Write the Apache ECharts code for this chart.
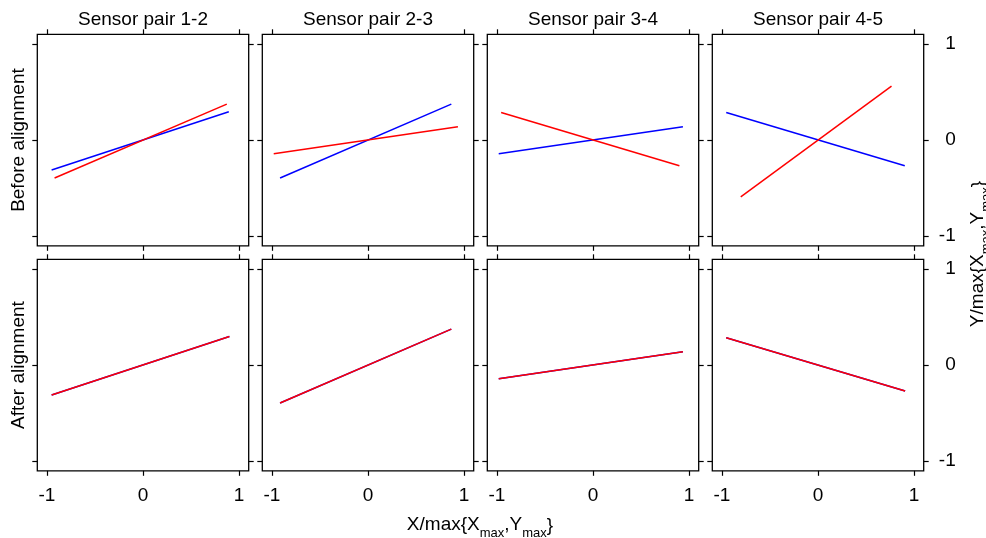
<!DOCTYPE html>
<html>
<head>
<meta charset="utf-8">
<script src="https://cdn.jsdelivr.net/npm/echarts@6/dist/echarts.min.js"></script>
<style>html,body{margin:0;padding:0;background:#fff}#c{width:986px;height:538px}</style>
</head>
<body>
<div id="c"></div>
<script>
// ---- tick labels / categories ----
const xTicks = [-1, 0, 1];
const yTicks = [-1, 0, 1];
const panelTitles = ['Sensor pair 1-2', 'Sensor pair 2-3', 'Sensor pair 3-4', 'Sensor pair 4-5'];
const rowTitles = ['Before alignment', 'After alignment'];

// ---- data: [x, y] end points of each fitted line ----
const beforeBlue12 = [[-0.951, -0.311], [0.893, 0.294]];
const beforeRed12  = [[-0.920, -0.395], [0.872, 0.374]];
const beforeBlue23 = [[-0.915, -0.395], [0.867, 0.374]];
const beforeRed23  = [[-0.981, -0.142], [0.936, 0.138]];
const beforeBlue34 = [[-0.981, -0.142], [0.936, 0.138]];
const beforeRed34  = [[-0.956, 0.287], [0.899, -0.267]];
const beforeBlue45 = [[-0.955, 0.287], [0.903, -0.267]];
const beforeRed45  = [[-0.804, -0.592], [0.765, 0.561]];

const afterBlue12 = [[-0.951, -0.311], [0.899, 0.297]];
const afterRed12  = [[-0.951, -0.311], [0.899, 0.297]];
const afterBlue23 = [[-0.915, -0.395], [0.867, 0.374]];
const afterRed23  = [[-0.915, -0.395], [0.867, 0.374]];
const afterBlue34 = [[-0.981, -0.142], [0.936, 0.138]];
const afterRed34  = [[-0.981, -0.142], [0.936, 0.138]];
const afterBlue45 = [[-0.955, 0.283], [0.907, -0.270]];
const afterRed45  = [[-0.955, 0.283], [0.907, -0.270]];

const blueRows = [[beforeBlue12, beforeBlue23, beforeBlue34, beforeBlue45],
                  [afterBlue12, afterBlue23, afterBlue34, afterBlue45]];
const redRows  = [[beforeRed12, beforeRed23, beforeRed34, beforeRed45],
                  [afterRed12, afterRed23, afterRed34, afterRed45]];

// ---- layout ----
const FONT = 'Liberation Sans';
const FS = 19;
const panelLeft0 = 37.3, panelStep = 225, panelW = 211.4;
const rowTop = [34.3, 259.3], panelH = 211.5;

const grids = [], xAxes = [], yAxes = [], series = [];
for (let r = 0; r < 2; r++) {
  for (let c = 0; c < 4; c++) {
    const gi = r * 4 + c;
    grids.push({
      left: panelLeft0 + c * panelStep, top: rowTop[r], width: panelW, height: panelH,
      show: true, borderColor: '#000', borderWidth: 1.3, backgroundColor: 'transparent'
    });
    ['bottom', 'top'].forEach(function (pos) {
      xAxes.push({
        type: 'value', gridIndex: gi, position: pos, min: -1.1, max: 1.1,
        axisLine: { show: false, onZero: false }, splitLine: { show: false },
        axisTick: { show: true, inside: false, length: 5, customValues: xTicks, lineStyle: { color: '#000', width: 1.2 } },
        axisLabel: { show: (pos === 'bottom' && r === 1), customValues: xTicks, margin: 15,
          fontSize: FS, fontFamily: FONT, color: '#000' }
      });
    });
    ['left', 'right'].forEach(function (pos) {
      yAxes.push({
        type: 'value', gridIndex: gi, position: pos, min: -1.1, max: 1.1,
        axisLine: { show: false, onZero: false }, splitLine: { show: false },
        axisTick: { show: true, inside: false, length: 5, customValues: yTicks, lineStyle: { color: '#000', width: 1.2 } },
        axisLabel: { show: (pos === 'right' && c === 3), customValues: yTicks, margin: 32, align: 'right',
          fontSize: FS, fontFamily: FONT, color: '#000' }
      });
    });
    series.push({
      type: 'line', xAxisIndex: gi * 2, yAxisIndex: gi * 2, data: blueRows[r][c],
      symbol: 'none', lineStyle: { color: '#0000ff', width: 1.5 }, silent: true
    });
    series.push({
      type: 'line', xAxisIndex: gi * 2, yAxisIndex: gi * 2, data: redRows[r][c],
      symbol: 'none', lineStyle: { color: '#ff0000', width: 1.5 }, silent: true
    });
  }
}

const graphics = [];
panelTitles.forEach(function (t, c) {
  graphics.push({ type: 'text', x: panelLeft0 + c * panelStep + panelW / 2, y: 20,
    style: { text: t, fontSize: FS, fontFamily: FONT, fill: '#000', align: 'center', verticalAlign: 'middle' } });
});
rowTitles.forEach(function (t, r) {
  graphics.push({ type: 'text', x: 19, y: rowTop[r] + panelH / 2, rotation: Math.PI / 2,
    style: { text: t, fontSize: FS, fontFamily: FONT, fill: '#000', align: 'center', verticalAlign: 'middle' } });
});
const richSub = {
  n: { fontSize: FS, fontFamily: FONT, fill: '#000', lineHeight: 21, verticalAlign: 'top' },
  s: { fontSize: 13, fontFamily: FONT, fill: '#000', lineHeight: 13, padding: [11, 0, 0, 0], verticalAlign: 'top' }
};
graphics.push({ type: 'text', x: 480, y: 526,
  style: { text: '{n|X/max{X}{s|max}{n|,Y}{s|max}}', rich: richSub, fontSize: FS, fontFamily: FONT, fill: '#000',
    align: 'center', verticalAlign: 'middle' } });
graphics.push({ type: 'text', x: 979, y: 254, rotation: Math.PI / 2,
  style: { text: '{n|Y/max{X}{s|max}{n|,Y}{s|max}}', rich: richSub, fontSize: FS, fontFamily: FONT, fill: '#000',
    align: 'center', verticalAlign: 'middle' } });

const chart = echarts.init(document.getElementById('c'), null, { renderer: 'canvas' });
chart.setOption({
  animation: false,
  backgroundColor: '#fff',
  grid: grids, xAxis: xAxes, yAxis: yAxes, series: series,
  graphic: graphics
});
</script>
</body>
</html>
